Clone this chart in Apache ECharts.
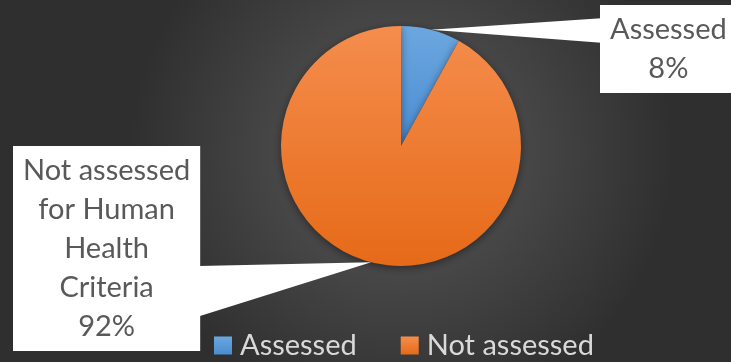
<!DOCTYPE html>
<html>
<head>
<meta charset="utf-8">
<script src="https://cdn.jsdelivr.net/npm/echarts@6/dist/echarts.min.js"></script>
<style>
  html, body { margin: 0; padding: 0; background: #3a3a3a; }
  #chart { width: 731px; height: 362px; }
</style>
</head>
<body>
<div id="chart"></div>
<script>
// Share of waters assessed against human health criteria
const categories = ['Assessed', 'Not assessed'];
const values = [8, 92];
const calloutNames = ['Assessed', 'Not assessed\nfor Human\nHealth\nCriteria'];

const FONT = 'Lato, "Open Sans", sans-serif';

const sliceColors = [
  { type: 'linear', x: 0, y: 0, x2: 0, y2: 1,
    colorStops: [{ offset: 0, color: '#6ca7df' }, { offset: 1, color: '#4a8cd2' }] },
  { type: 'linear', x: 0, y: 0, x2: 0, y2: 1,
    colorStops: [{ offset: 0, color: '#f58d4d' }, { offset: 1, color: '#e66a18' }] }
];

// Callout boxes: anchor (top-left) and where the pointer meets the box edge
const callouts = [
  { left: 600, top: 5, side: 'left', from: 0.15, to: 0.43 },
  { left: 13, top: 146, side: 'right', from: 0.585, to: 0.83 }
];

const chart = echarts.init(document.getElementById('chart'), null, { renderer: 'canvas' });

const boxes = [];

chart.setOption({
  animation: false,
  backgroundColor: {
    type: 'radial', x: 0.55, y: 0.42, r: 0.75,
    colorStops: [{ offset: 0, color: '#5b5b5b' }, { offset: 1, color: '#2f2f2f' }]
  },
  legend: {
    data: categories,
    left: 214,
    top: 331,
    padding: 0,
    itemWidth: 18,
    itemHeight: 18,
    itemGap: 44,
    icon: 'rect',
    textStyle: { color: '#d9d9d9', fontSize: 29, fontFamily: FONT, padding: [0, 0, 0, 3] }
  },
  series: [{
    type: 'pie',
    center: [401, 146],
    radius: 120,
    startAngle: 90,
    clockwise: true,
    data: categories.map((name, i) => ({
      name, value: values[i],
      itemStyle: { color: sliceColors[i] }
    })),
    itemStyle: {
      shadowBlur: 8, shadowColor: 'rgba(0,0,0,0.45)', shadowOffsetY: 2
    },
    label: {
      show: true,
      formatter: p => calloutNames[p.dataIndex] + '\n' + Math.round(p.percent) + '%',
      color: '#595959',
      fontFamily: FONT,
      fontSize: 29,
      lineHeight: 39,
      backgroundColor: '#ffffff',
      padding: [5, 10, 5, 10]
    },
    labelLine: { show: false },
    labelLayout: p => {
      const c = callouts[p.dataIndex];
      const w = p.labelRect.width, h = p.labelRect.height;
      boxes[p.dataIndex] = { x: c.left, y: c.top, w, h };
      return { x: c.left + w / 2, y: c.top, align: 'center', verticalAlign: 'top' };
    }
  }]
});

// Tapered callout pointers from each slice's arc midpoint to its box
function drawPointers() {
  const data = chart.getModel().getSeriesByIndex(0).getData();
  const shapes = [];
  categories.forEach((_, i) => {
    const lay = data.getItemLayout(i);
    const b = boxes[i];
    if (!lay || !b) return;
    const mid = (lay.startAngle + lay.endAngle) / 2;
    const tip = [lay.cx + lay.r * Math.cos(mid), lay.cy + lay.r * Math.sin(mid)];
    const c = callouts[i];
    const ex = c.side === 'left' ? b.x + 1 : b.x + b.w - 1;
    shapes.push({
      type: 'polygon',
      z: 5,
      shape: { points: [tip, [ex, b.y + b.h * c.from], [ex, b.y + b.h * c.to]] },
      style: { fill: '#ffffff' },
      silent: true
    });
  });
  chart.setOption({ graphic: shapes });
}
drawPointers();
</script>
</body>
</html>
